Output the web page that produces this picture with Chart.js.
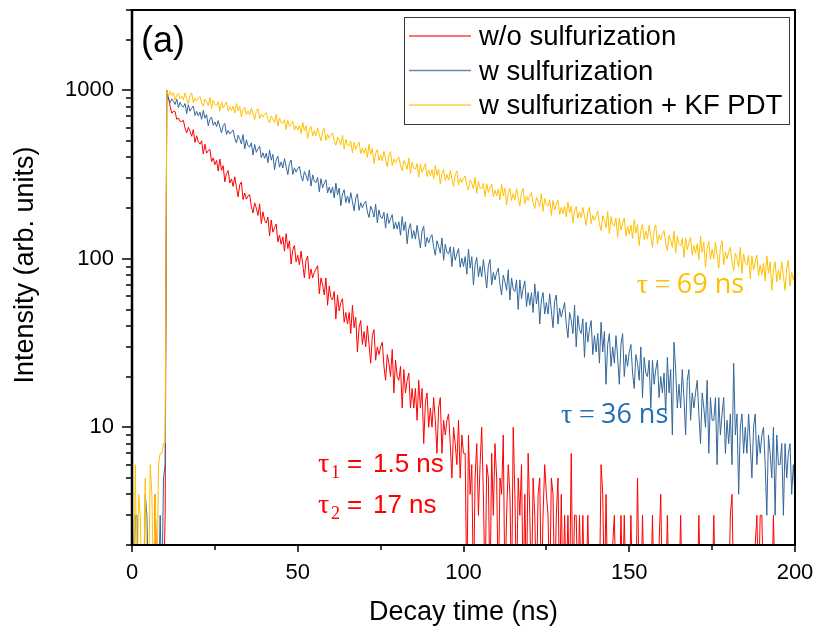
<!DOCTYPE html>
<html>
<head>
<meta charset="utf-8">
<title>PL decay</title>
<script src="https://cdn.jsdelivr.net/npm/chart.js@4.4.1/dist/chart.umd.min.js"></script>
<style>
  html, body { margin: 0; padding: 0; background: #fff; }
</style>
</head>
<body>
<canvas id="decay-chart" width="815" height="629"></canvas>
<script>
'use strict';

// ******* GLOBALS / DATA *********
// one value every 0.5 ns, from 0 to 200 ns (counts below the axis are stored as 1)
let stepNs = 0.5;

let seriesLabels = ['w/o sulfurization', 'w sulfurization', 'w sulfurization + KF PDT'];
let seriesColors = ['#FF0000', '#33669A', '#FFC000'];

let redCounts = [
  1,1,1,1,1,1,1,1,1,1,1,1,1,1,4,1,1,1,1,1,3,
  1000,914,805,731,753,748,673,685,654,654,
  664,597,559,604,573,534,585,491,537,495,
  479,502,419,479,424,438,448,377,397,362,
  384,332,391,335,357,286,322,334,282,298,
  269,307,268,233,275,286,225,246,226,236,
  241,205,187,215,200,181,212,162,190,169,
  163,177,137,170,144,153,161,126,138,122,
  135,111,141,115,128,93,113,120,96,105,
  92,111,93,77,98,104,76,87,77,83,
  87,91,62,77,70,61,77,53,69,59,
  57,64,44,61,49,55,58,42,48,41,
  48,36,53,39,45,28,39,43,31,37,
  30,40,31,24,35,38,25,30,27,30,
  32,23,19,27,24,20,29,16,25,20,
  19,23,13,22,16,19,21,13,17,13,
  17,11,19,13,17,8,14,16,10,13,
  10,15,11,7,13,15,7,11,9,11,
  12,8,5,10,8,6,11,5,9,7,
  7,1,9,4,6,1,5,8,3,6,
  10,4,1,6,5,1,7,3,8,5,
  1,5,4,9,1,3,6,4,1,10,
  4,1,5,3,6,1,4,1,7,3,
  1,5,3,1,4,5,1,3,6,4,
  3,1,5,4,1,3,5,1,4,1,
  3,1,3,1,7,1,3,3,1,3,
  1,3,1,1,3,1,1,1,1,1,
  1,1,6,4,1,4,1,1,1,2,
  3,1,1,1,3,1,3,1,2,1,
  3,1,1,1,5,1,1,3,1,1,
  1,1,1,3,1,1,1,2,4,1,
  1,1,3,1,1,1,2,1,1,1,
  3,1,1,1,1,1,1,2,1,1,
  1,3,1,1,1,1,1,1,2,1,
  3,1,1,1,1,1,1,1,2,1,
  3,4,1,1,1,1,1,2,1,1,
  1,1,1,1,1,2,3,1,3,3,
  1,1,1,1,1,1,3,1,1,2,
  1,1,1,1,1,1,2,1,1,1
];

let blueCounts = [
  5,1,3,3,1,1,1,1,4,3,1,1,1,1,1,1,1,3,1,5,6,
  1000,884,845,891,863,825,887,791,849,809,
  795,835,728,822,752,782,808,710,750,706,
  743,673,759,683,718,617,675,695,620,650,
  609,662,607,559,619,636,548,579,551,567,
  582,519,487,542,516,481,546,449,509,469,
  461,488,413,478,429,450,467,399,426,395,
  424,372,443,385,417,338,387,407,350,376,
  346,393,352,316,369,386,317,347,327,344,
  353,311,289,330,313,290,337,270,315,288,
  283,304,250,299,264,281,295,246,267,245,
  267,230,281,240,263,207,243,257,216,236,
  214,247,218,193,230,243,194,215,201,213,
  220,190,176,205,194,177,211,164,195,177,
  174,189,152,186,162,173,183,150,165,150,
  166,138,178,147,166,123,151,162,132,147,
  131,158,135,116,146,156,118,134,124,134,
  139,117,105,128,119,108,133,98,122,109,
  107,118,90,117,98,107,115,89,101,90,
  103,81,114,88,103,70,92,102,78,90,
  78,99,82,67,91,99,70,83,75,83,
  88,70,61,80,73,65,86,57,77,66,
  64,75,50,75,58,67,74,52,63,53,
  63,48,71,54,64,41,57,63,47,55,
  47,62,49,39,56,61,41,51,45,50,
  55,41,34,48,43,36,53,30,46,38,
  36,44,26,42,32,38,43,27,35,28,
  36,24,42,28,37,18,31,36,23,30,
  24,35,26,18,31,36,20,27,23,28,
  31,21,17,27,24,19,30,15,26,21,
  20,25,13,25,18,22,25,15,20,16,
  21,12,26,16,22,9,32,22,13,18,
  13,22,15,9,19,22,11,16,13,16,
  19,12,8,16,13,10,19,7,15,11,
  11,15,6,15,9,12,15,7,11,8,
  12,6,24,9,12,4,10,12,7,10,
  7,12,8,5,10,12,6,9,7,9,
  10,6,3,9,7,5,10,3,9,6,
  6,8,3,8,5,7,8,4,6,4
];

let yellowCounts = [
  5,1,6,1,4,3,1,1,5,1,1,6,4,1,4,1,6,7,7,8,8,
  1000,920,990,932,970,876,937,961,891,925,
  879,966,894,832,931,967,843,901,866,901,
  922,844,805,887,856,814,910,780,872,822,
  814,859,753,855,786,822,854,754,802,758,
  806,734,835,757,803,694,767,795,716,756,
  715,784,725,672,752,779,678,723,694,721,
  737,673,640,704,678,643,718,614,684,644,
  636,670,586,664,609,635,659,580,616,581,
  619,554,646,575,617,518,584,611,538,575,
  537,600,546,500,571,596,505,546,519,544,
  559,501,472,528,506,474,541,448,511,474,
  468,499,425,494,446,470,492,422,454,424,
  456,400,478,417,452,368,423,445,383,414,
  382,435,390,352,412,433,357,392,370,391,
  403,357,334,383,365,340,397,320,374,345,
  341,368,305,366,326,347,367,308,337,312,
  339,299,358,313,340,278,320,338,292,317,
  293,334,299,269,316,332,274,300,284,300,
  310,274,256,294,280,261,305,245,287,264,
  260,281,234,279,248,264,278,234,256,236,
  259,224,277,237,262,208,246,262,222,244,
  224,261,231,205,247,262,212,236,222,237,
  247,214,199,232,221,204,244,191,228,209,
  206,224,181,222,195,211,223,183,202,185,
  205,177,217,187,206,163,192,205,174,190,
  175,202,179,158,190,202,162,181,169,180,
  192,162,147,180,169,153,191,141,178,159,
  156,174,134,174,148,162,175,137,156,140,
  159,132,171,142,160,120,148,160,130,146,
  131,158,136,117,148,159,122,139,129,140,
  147,124,112,138,129,117,146,108,136,122,
  119,133,102,133,113,125,134,105,120,108,
  123,99,136,109,126,89,115,127,99,114,
  100,126,105,88,117,128,92,110,100,110,
  117,96,85,108,101,89,117,82,107,94,
  92,105,76,104,86,96,105,79,92,80,
  94,74,104,82,96,65,86,96,73,86,
  75,96,79,65,88,98,69,83,75,84
];

// time of each channel (the measurement grid, not a value)
let decayTime = redCounts.map((_, i) => i * stepNs);

let xMajorTicks = [0, 50, 100, 150, 200];
let xMinorTicks = [25, 75, 125, 175];
let yMajorTicks = [10, 100, 1000];
let yMinorTicks = [2, 3, 4, 5, 6, 7, 8, 9, 20, 30, 40, 50, 60, 70, 80, 90,
  200, 300, 400, 500, 600, 700, 800, 900, 2000, 3000];

// fitted lifetimes written on the plot
let lifetimeNotes = [
  { color: '#FFC000', t: 152.3, v: 62.7, sub: '', value: '69 ns' },
  { color: '#2270B4', t: 129.4, v: 10.6, sub: '', value: '36 ns' },
  { color: '#FF0000', t: 56.1, v: 5.43, sub: '1', value: '1.5 ns' },
  { color: '#FF0000', t: 56.1, v: 3.1, sub: '2', value: '17 ns' }
];

let sansFont = "'Liberation Sans', Arial, sans-serif";
let serifFont = "'Liberation Serif', 'Times New Roman', serif";

// ****** HELPERS ******
function fitAxis(scale, size) {
  if (scale.isHorizontal()) {
    scale.height = size;
  } else {
    scale.width = size;
  }
  // no extra room for half labels at the ends
  scale.paddingTop = 0;
  scale.paddingBottom = 0;
  scale.paddingLeft = 0;
  scale.paddingRight = 0;
}

// ****** PLUGIN: frame, ticks, legend, labels ******
let decorPlugin = {
  id: 'decor',
  afterDatasetsDraw(chart) {
    let ctx = chart.ctx;
    let area = chart.chartArea;
    let xScale = chart.scales.x;
    let yScale = chart.scales.y;

    ctx.save();
    ctx.strokeStyle = '#000';
    ctx.fillStyle = '#000';

    // box round the plot
    ctx.lineWidth = 2;
    ctx.strokeRect(area.left, area.top, area.right - area.left, area.bottom - area.top);
    ctx.lineWidth = 2.5;
    ctx.beginPath();
    ctx.moveTo(area.left, area.top - 1);
    ctx.lineTo(area.left, area.bottom + 1);
    ctx.stroke();

    // ticks, pointing out
    ctx.lineWidth = 1.5;
    ctx.beginPath();
    xMajorTicks.forEach(v => {
      let px = Math.round(xScale.getPixelForValue(v));
      ctx.moveTo(px, area.bottom);
      ctx.lineTo(px, area.bottom + 7);
    });
    xMinorTicks.forEach(v => {
      let px = Math.round(xScale.getPixelForValue(v));
      ctx.moveTo(px, area.bottom);
      ctx.lineTo(px, area.bottom + 5);
    });
    yMajorTicks.forEach(v => {
      let py = Math.round(yScale.getPixelForValue(v));
      ctx.moveTo(area.left - 10, py);
      ctx.lineTo(area.left, py);
    });
    yMinorTicks.forEach(v => {
      let py = Math.round(yScale.getPixelForValue(v));
      ctx.moveTo(area.left - 6, py);
      ctx.lineTo(area.left, py);
    });
    ctx.stroke();

    // panel letter
    ctx.textAlign = 'left';
    ctx.textBaseline = 'alphabetic';
    ctx.font = '36px ' + sansFont;
    ctx.fillText('(a)', 141, 52);

    // y axis title
    ctx.save();
    ctx.translate(33, 265);
    ctx.rotate(-Math.PI / 2);
    ctx.textAlign = 'center';
    ctx.font = '27px ' + sansFont;
    ctx.fillText('Intensity (arb. units)', 0, 0);
    ctx.restore();

    // legend box
    ctx.fillStyle = '#fff';
    ctx.fillRect(404, 17, 385, 107);
    ctx.strokeStyle = '#3a3a3a';
    ctx.lineWidth = 1;
    ctx.strokeRect(404.5, 17.5, 385, 107);
    chart.data.datasets.forEach((ds, i) => {
      let ly = 36 + i * 34.5;
      ctx.strokeStyle = ds.borderColor;
      ctx.globalAlpha = 0.75;
      ctx.lineWidth = 1.5;
      ctx.beginPath();
      ctx.moveTo(409, ly);
      ctx.lineTo(471, ly);
      ctx.stroke();
      ctx.globalAlpha = 1;
      ctx.fillStyle = '#000';
      ctx.font = '27.5px ' + sansFont;
      ctx.fillText(ds.label, 479, ly + 9);
    });

    // lifetime labels
    lifetimeNotes.forEach(note => {
      let x0 = xScale.getPixelForValue(note.t);
      let y0 = yScale.getPixelForValue(note.v);
      ctx.fillStyle = note.color;
      if (note.sub) {
        ctx.font = '28px ' + serifFont;
        ctx.fillText('τ', x0, y0);
        ctx.font = '18px ' + serifFont;
        ctx.fillText(note.sub, x0 + 13, y0 + 6);
        ctx.font = '26px ' + sansFont;
        ctx.fillText('=', x0 + 29, y0);
        ctx.fillText(note.value, x0 + 55, y0);
      } else {
        ctx.font = '28px ' + serifFont;
        ctx.fillText('τ', x0, y0);
        ctx.fillText('=', x0 + 18, y0);
        ctx.font = "27px 'Open Sans', sans-serif";
        ctx.fillText(note.value, x0 + 40, y0);
      }
    });

    ctx.restore();
  }
};

// ****** CHART ******
let countSets = [redCounts, blueCounts, yellowCounts];

let chartObj = {
  type: 'line',
  data: {
    labels: decayTime,
    datasets: countSets.map((counts, i) => ({
      label: seriesLabels[i],
      data: counts,
      borderColor: seriesColors[i],
      borderWidth: 1,
      pointRadius: 0,
      tension: 0,
      fill: false,
      order: 3 - i
    }))
  },
  options: {
    responsive: false,
    animation: false,
    events: [],
    layout: { padding: { top: 10, right: 20, left: 0, bottom: 0 } },
    plugins: {
      legend: { display: false },
      tooltip: { enabled: false }
    },
    scales: {
      x: {
        type: 'linear',
        min: 0,
        max: 200,
        afterBuildTicks: s => { s.ticks = xMajorTicks.map(v => ({ value: v })); },
        afterFit: s => fitAxis(s, 84),
        ticks: {
          autoSkip: false,
          maxRotation: 0,
          padding: 15,
          color: '#000',
          font: { family: sansFont, size: 22 }
        },
        grid: { display: false, drawTicks: false },
        border: { display: false },
        title: {
          display: true,
          text: 'Decay time (ns)',
          color: '#000',
          font: { family: sansFont, size: 27 },
          padding: { top: 0, bottom: 0 }
        }
      },
      y: {
        type: 'logarithmic',
        min: 2,
        max: 3000,
        afterBuildTicks: s => { s.ticks = yMajorTicks.map(v => ({ value: v })); },
        afterFit: s => fitAxis(s, 132),
        ticks: {
          autoSkip: false,
          padding: 18,
          color: '#000',
          font: { family: sansFont, size: 22 },
          callback: v => String(v)
        },
        grid: { display: false, drawTicks: false },
        border: { display: false }
      }
    }
  },
  plugins: [decorPlugin]
};

let ctx = document.getElementById('decay-chart');
new Chart(ctx, chartObj); //eslint-disable-line
</script>
</body>
</html>
